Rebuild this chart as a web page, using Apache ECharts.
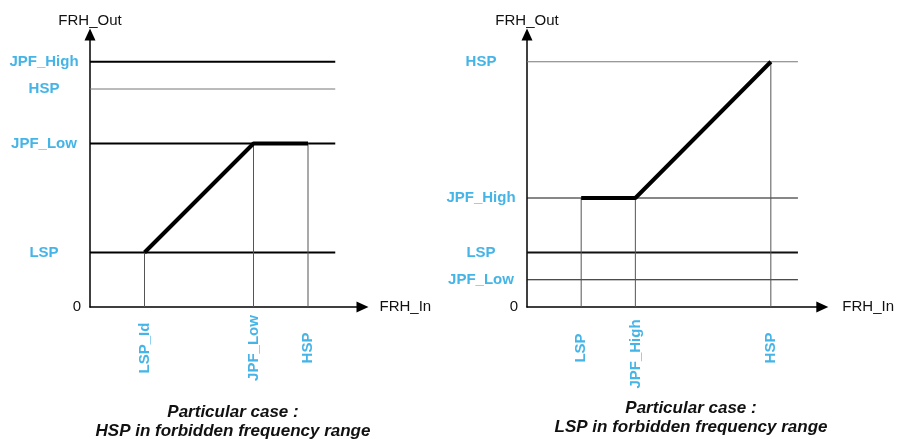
<!DOCTYPE html>
<html>
<head>
<meta charset="utf-8">
<script src="https://cdn.jsdelivr.net/npm/echarts@6/dist/echarts.min.js"></script>
<style>
  html, body { margin: 0; padding: 0; background: #fff; }
  #chart { width: 897px; height: 439px; }
</style>
</head>
<body>
<div id="chart"></div>
<script>
// Left diagram: HSP lies inside the forbidden band
const leftLevelNames = ['LSP', 'JPF_Low', 'HSP', 'JPF_High'];
const leftLevelValues = [1, 3, 4, 4.5];
const leftInputNames = ['LSP_Id', 'JPF_Low', 'HSP'];
const leftInputValues = [1, 3, 4];
const leftCurveIn = [1, 3, 4];
const leftCurveOut = [1, 3, 3];
const leftLevelExtent = 4.5;
const leftCaption = ['Particular case :', 'HSP in forbidden frequency range'];

// Right diagram: LSP lies inside the forbidden band
const rightLevelNames = ['JPF_Low', 'LSP', 'JPF_High', 'HSP'];
const rightLevelValues = [0.5, 1, 2, 4.5];
const rightInputNames = ['LSP', 'JPF_High', 'HSP'];
const rightInputValues = [1, 2, 4.5];
const rightCurveIn = [1, 2, 4.5];
const rightCurveOut = [2, 2, 4.5];
const rightLevelExtent = 5;
const rightCaption = ['Particular case :', 'LSP in forbidden frequency range'];

const axisNameX = 'FRH_In';
const axisNameY = 'FRH_Out';

// Styling
const FONT = '"Liberation Sans", Arial, Helvetica, sans-serif';
const BLUE = '#45b4e6';
const leftLevelStyle = [
  { width: 2, color: '#000' }, { width: 2, color: '#000' },
  { width: 1, color: '#777' }, { width: 2, color: '#000' }
];
const rightLevelStyle = [
  { width: 1, color: '#111' }, { width: 2, color: '#111' },
  { width: 1, color: '#111' }, { width: 1, color: '#777' }
];
// extra space after a rotated label, nudging it further from the axis
const leftLabelNudge = {};
const rightLabelNudge = { JPF_High: 12 };

function lookup(names, values) {
  return function (v) {
    for (let i = 0; i < values.length; i++) {
      if (Math.abs(values[i] - v) < 1e-9) return names[i];
    }
    return '';
  };
}

function lineSeries(xi, yi, data, width, color, z) {
  return {
    type: 'line', xAxisIndex: xi, yAxisIndex: yi, data: data,
    symbol: 'none', silent: true, animation: false, z: z || 2,
    lineStyle: { width: width, color: color, cap: 'butt' }
  };
}

function buildSeries(xi, yi, levelValues, levelStyle, extent, curveIn, curveOut) {
  const out = [];
  levelValues.forEach(function (v, i) {
    out.push(lineSeries(xi, yi, [[0, v], [extent, v]], levelStyle[i].width, levelStyle[i].color, 2));
  });
  curveIn.forEach(function (x, i) {
    out.push(lineSeries(xi, yi, [[x, curveOut[i]], [x, 0]], 1, '#555', 2));
  });
  out.push(lineSeries(xi, yi, curveIn.map(function (x, i) { return [x, curveOut[i]]; }), 4, '#000', 5));
  return out;
}

const labelFont = { color: BLUE, fontWeight: 'bold', fontSize: 15, fontFamily: FONT };

function xAxisFor(gridIndex, max, names, values, nameGap, nudge) {
  const nameOf = lookup(names, values);
  const rich = { n: Object.assign({}, labelFont) };
  Object.keys(nudge).forEach(function (k, i) {
    rich['s' + i] = Object.assign({ padding: [0, nudge[k], 0, 0] }, labelFont);
  });
  return {
    type: 'value', gridIndex: gridIndex, min: 0, max: max,
    name: axisNameX, nameLocation: 'end', nameGap: nameGap,
    nameTextStyle: { color: '#111', fontSize: 15, fontFamily: FONT, verticalAlign: 'middle', align: 'left' },
    axisLine: { show: true, lineStyle: { color: '#000', width: 1.5 }, symbol: ['none', 'triangle'], symbolSize: [11, 12] },
    axisTick: { show: false },
    splitLine: { show: false },
    axisLabel: Object.assign({
      customValues: values,
      formatter: function (v) {
        const n = nameOf(v);
        const idx = Object.keys(nudge).indexOf(n);
        return idx >= 0 ? '{s' + idx + '|' + n + '}' : '{n|' + n + '}';
      },
      rich: rich,
      rotate: 90, align: 'center', verticalAlign: 'middle', margin: 41
    }, labelFont)
  };
}

function yAxisFor(gridIndex, names, values) {
  return {
    type: 'value', gridIndex: gridIndex, min: 0, max: 5,
    name: axisNameY, nameLocation: 'end', nameGap: 6,
    nameTextStyle: { color: '#111', fontSize: 15, fontFamily: FONT, align: 'center' },
    axisLine: { show: true, lineStyle: { color: '#000', width: 1.5 }, symbol: ['none', 'triangle'], symbolSize: [11, 12] },
    axisTick: { show: false },
    splitLine: { show: false },
    axisLabel: Object.assign({
      customValues: values, formatter: lookup(names, values),
      align: 'center', margin: 46
    }, labelFont)
  };
}

function zeroAxisFor(gridIndex) {
  return {
    type: 'value', gridIndex: gridIndex, min: 0, max: 5, position: 'left',
    axisLine: { show: false }, axisTick: { show: false }, splitLine: { show: false },
    axisLabel: {
      customValues: [0], formatter: function (v) { return String(v); },
      align: 'right', margin: 9, color: '#111', fontSize: 15, fontFamily: FONT
    }
  };
}

function caption(x, y, lines) {
  return {
    type: 'text', x: x, y: y, silent: true,
    style: {
      text: lines.join('\n'), fill: '#111',
      font: 'italic bold 17px ' + FONT, lineHeight: 19,
      align: 'center', verticalAlign: 'top'
    }
  };
}

const chart = echarts.init(document.getElementById('chart'), null, { renderer: 'canvas' });
chart.setOption({
  animation: false,
  backgroundColor: '#fff',
  grid: [
    { left: 90, top: 34.5, width: 272.5, height: 272.5 },
    { left: 527, top: 34.5, width: 297, height: 272.5 }
  ],
  xAxis: [
    xAxisFor(0, 5, leftInputNames, leftInputValues, 17, leftLabelNudge),
    xAxisFor(1, 5.45, rightInputNames, rightInputValues, 20, rightLabelNudge)
  ],
  yAxis: [
    yAxisFor(0, leftLevelNames, leftLevelValues),
    zeroAxisFor(0),
    yAxisFor(1, rightLevelNames, rightLevelValues),
    zeroAxisFor(1)
  ],
  series: [].concat(
    buildSeries(0, 0, leftLevelValues, leftLevelStyle, leftLevelExtent, leftCurveIn, leftCurveOut),
    buildSeries(1, 2, rightLevelValues, rightLevelStyle, rightLevelExtent, rightCurveIn, rightCurveOut)
  ),
  graphic: [
    caption(233, 402.5, leftCaption),
    caption(691, 398.5, rightCaption)
  ]
});
</script>
</body>
</html>
